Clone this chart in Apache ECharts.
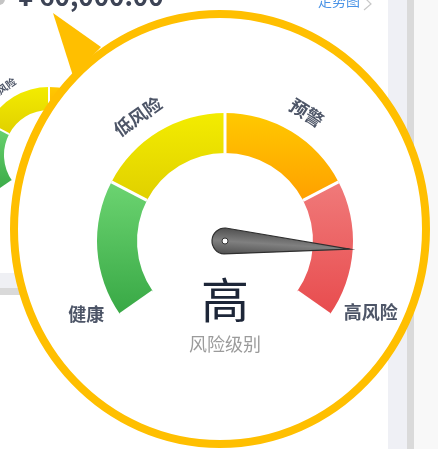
<!DOCTYPE html>
<html>
<head>
<meta charset="utf-8">
<script src="https://cdn.jsdelivr.net/npm/echarts@6/dist/echarts.min.js"></script>
<style>
    html, body { margin: 0; padding: 0; background: #fff; }
    #chart { width: 438px; height: 449px; }
</style>
</head>
<body>
<div id="chart"></div>
<script>
    // risk bands (share of the dial) and their names
    const bandStops = [0.25, 0.5, 0.75, 1];
    const bandNames = ['健康', '低风险', '预警', '高风险'];
    // where each band name sits on the dial (0-100 scale)
    const bandLabelValues = [4, 36, 63, 95];
    const riskValue = 87.5;
    const riskLevel = '高';
    const gaugeTitle = '风险级别';
    const amountText = '¥ 60,000.00';
    const trendLinkText = '走势图';

    const FONT = '"Noto Sans CJK SC", "Noto Sans", sans-serif';
    const grad = (a, b) => new echarts.graphic.LinearGradient(0, 0, 0, 1, [
        {offset: 0, color: a}, {offset: 1, color: b}
    ]);
    const bandColors = [
        grad('#6cd471', '#38a845'),
        grad('#f3ec00', '#e0d000'),
        grad('#ffc900', '#ffa000'),
        grad('#f07a7a', '#e84c4e')
    ];
    const axisColors = bandStops.map((s, i) => [s, bandColors[i]]);

    const near = (v, list) => list.findIndex(x => Math.abs(x - v) < 1e-6);
    // label formatter that only prints the chosen band names
    const bandLabel = idxs => v => {
        const i = near(v, bandLabelValues);
        return idxs.indexOf(i) >= 0 ? bandNames[i] : '';
    };

    function labelSeries (center, radius, formatter, rotate, dist, size, z) {
        return {
            type: 'gauge',
            z: z,
            center: center,
            radius: radius,
            startAngle: 215,
            endAngle: -35,
            min: 0,
            max: 100,
            splitNumber: 100,
            axisLine: {show: false, lineStyle: {width: 0}},
            splitLine: {show: false, length: 0, distance: 0},
            axisTick: {show: false},
            pointer: {show: false},
            anchor: {show: false},
            title: {show: false},
            detail: {show: false},
            axisLabel: {
                show: true,
                distance: dist,
                rotate: rotate,
                color: '#4d5567',
                fontSize: size,
                fontWeight: 'bold',
                fontFamily: FONT,
                formatter: formatter
            },
            data: [{value: 0}]
        };
    }

    const myChart = echarts.init(document.getElementById('chart'));
    const option = {
        backgroundColor: '#fff',
        animation: false,
        graphic: [
            // page behind the magnifier
            {type: 'rect', z: 0, shape: {x: 388, y: 0, width: 19, height: 449}, style: {fill: '#eff0f5'}},
            {type: 'rect', z: 0, shape: {x: 407, y: 0, width: 7, height: 449}, style: {fill: '#dadada'}},
            {type: 'rect', z: 0, shape: {x: 414, y: 0, width: 24, height: 449}, style: {fill: '#f8f8f8'}},
            {type: 'rect', z: 0, shape: {x: 0, y: 273, width: 60, height: 15}, style: {fill: '#eff0f4'}},
            {type: 'rect', z: 0, shape: {x: 0, y: 288, width: 60, height: 7}, style: {fill: '#d9d9d9'}},
            {type: 'circle', z: 0, shape: {cx: -1, cy: -1, r: 6}, style: {fill: '#c4c4c4'}},
            {type: 'text', z: 0, x: 18, y: 9, style: {
                text: amountText, fill: '#3d4456', font: 'bold 26px ' + FONT, verticalAlign: 'bottom'
            }},
            {type: 'text', z: 0, x: 318, y: 8, style: {
                text: trendLinkText, fill: '#4a93e6', font: '14px ' + FONT, verticalAlign: 'bottom'
            }},
            {type: 'polyline', z: 0, shape: {points: [[363, -4], [371, 4], [364, 10]]}, style: {stroke: '#c8c8c8', lineWidth: 1.2, fill: null}},
            // magnifier
            {type: 'ellipse', z: 5, shape: {cx: 220, cy: 229, rx: 206, ry: 215}, style: {fill: '#fff', stroke: '#ffbf00', lineWidth: 8}},
            {type: 'polygon', z: 5, shape: {points: [[53, 13], [101, 47], [73, 76]]}, style: {fill: '#ffbf00'}}
        ],
        series: [
            // small gauge behind the magnifier
            {
                type: 'gauge',
                z: 1,
                center: [49, 155],
                radius: 68,
                startAngle: 215,
                endAngle: -35,
                min: 0,
                max: 100,
                axisLine: {lineStyle: {width: 23, color: axisColors}},
                splitNumber: 4,
                splitLine: {show: true, length: 23, distance: -23, lineStyle: {color: '#fff', width: 2}},
                axisTick: {show: false},
                axisLabel: {show: false},
                pointer: {show: false},
                anchor: {show: false},
                title: {show: false},
                detail: {show: false},
                data: [{value: riskValue}]
            },
            labelSeries([49, 155], 68, bandLabel([1, 2]), 'tangential', -13, 10, 1),
            // magnified gauge
            {
                type: 'gauge',
                z: 10,
                center: [225, 241],
                radius: 128,
                startAngle: 215,
                endAngle: -35,
                min: 0,
                max: 100,
                axisLine: {lineStyle: {width: 40, color: axisColors}},
                splitNumber: 4,
                splitLine: {show: true, length: 40, distance: -40, lineStyle: {color: '#fff', width: 3}},
                axisTick: {show: false},
                axisLabel: {show: false},
                pointer: {
                    show: true,
                    icon: 'path://M13 0 L26 127 A13 13 0 1 1 0 127 Z',
                    length: 138,
                    width: 26,
                    offsetCenter: [0, 13],
                    itemStyle: {
                        color: new echarts.graphic.LinearGradient(0, 0, 1, 0, [
                            {offset: 0, color: '#4e4e4e'},
                            {offset: 0.5, color: '#808080'},
                            {offset: 1, color: '#4e4e4e'}
                        ]),
                        borderColor: '#2f2f2f',
                        borderWidth: 1.2
                    }
                },
                anchor: {
                    show: true,
                    showAbove: true,
                    size: 6,
                    itemStyle: {color: '#fff', borderColor: '#333', borderWidth: 1}
                },
                title: {
                    show: true,
                    offsetCenter: [0, 103],
                    color: '#9b9b9b',
                    fontSize: 18,
                    fontFamily: FONT
                },
                detail: {
                    show: true,
                    offsetCenter: [0, 59],
                    color: '#1d2638',
                    fontSize: 48,
                    fontWeight: 'normal',
                    fontFamily: FONT,
                    formatter: () => riskLevel
                },
                data: [{value: riskValue, name: gaugeTitle}]
            },
            labelSeries([225, 241], 128, bandLabel([1, 2]), 'tangential', -24, 18, 10),
            labelSeries([225, 241], 128, bandLabel([0]), 0, -45, 18, 10),
            labelSeries([225, 241], 128, bandLabel([3]), 0, -59, 18, 10)
        ]
    };
    myChart.setOption(option);
</script>
</body>
</html>
